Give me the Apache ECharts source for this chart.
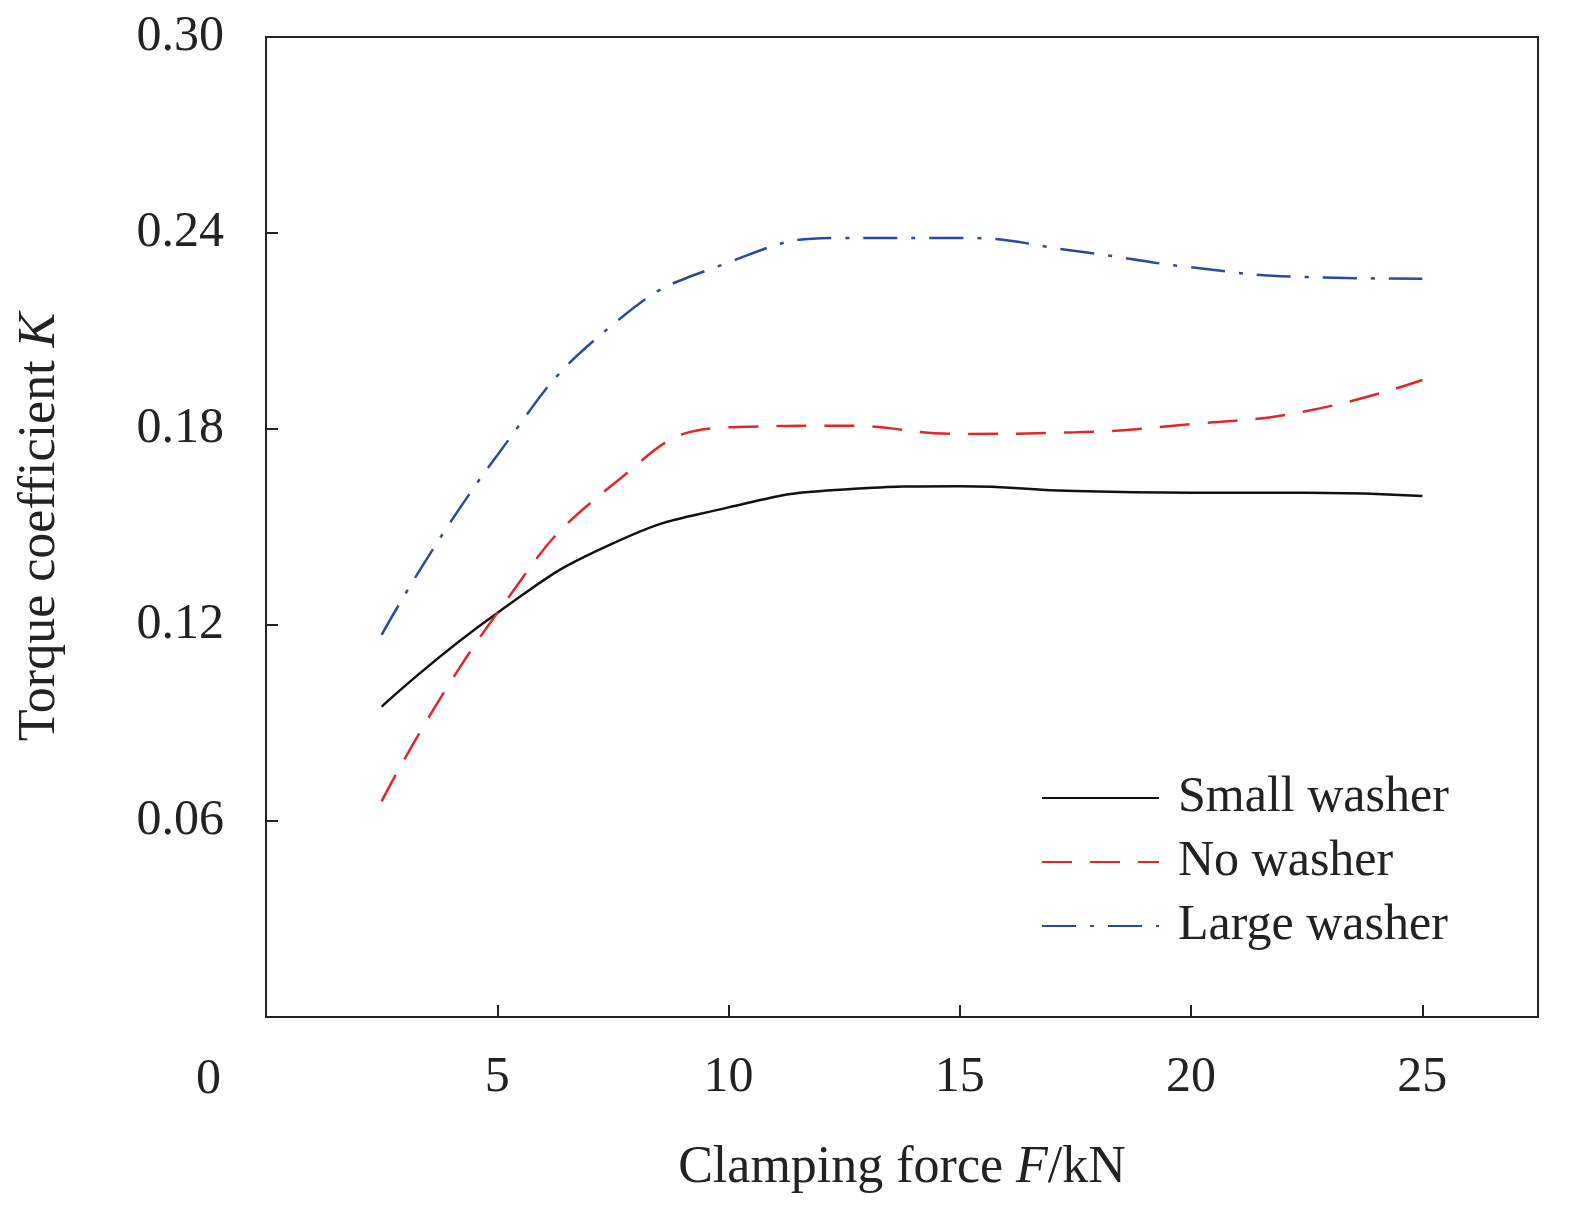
<!DOCTYPE html>
<html><head><meta charset="utf-8">
<script src="https://cdn.jsdelivr.net/npm/echarts@6/dist/echarts.min.js"></script>
<style>html,body{margin:0;background:#fff}#c{width:1575px;height:1205px}</style>
</head><body><div id="c"></div>
<script>
const xs = [2.5, 5, 7.5, 10, 12.5, 15, 17.5, 20, 22.5, 25];
const smallWasher = [0.095, 0.1237, 0.145, 0.156, 0.1615, 0.1625, 0.161, 0.1605, 0.1605, 0.1595];
const noWasher = [0.066, 0.1237, 0.163, 0.1805, 0.181, 0.1785, 0.179, 0.1815, 0.1855, 0.195];
const largeWasher = [0.117, 0.172, 0.212, 0.231, 0.2385, 0.2385, 0.2345, 0.2295, 0.2265, 0.226];
const yTicks = ['0.06','0.12','0.18','0.24','0.30'];
const xTicks = [5,10,15,20,25];
const font = 'Liberation Serif';
const chart = echarts.init(document.getElementById('c'));
const pair = a => xs.map((x,i)=>[x,a[i]]);
chart.setOption({
  animation:false,
  textStyle:{fontFamily:font},
  grid:{left:266,top:37,right:37,bottom:188,outerBoundsMode:'none',show:true,borderColor:'#222',borderWidth:2},
  graphic:[{type:'text',left:196,top:1055,style:{text:'0',font:'50px '+font,fill:'#222'}}],
  legend:{orient:'vertical',left:1036,top:768,itemWidth:117,itemHeight:20,itemGap:14,
    itemStyle:{opacity:0},
    textStyle:{fontSize:50,color:'#222',fontFamily:font,padding:[0,0,0,14]},
    data:['Small washer','No washer','Large washer']},
  xAxis:{type:'value',min:0,max:27.5,interval:5,
    axisLine:{lineStyle:{color:'#222',width:2}},
    axisTick:{inside:true,length:12,lineStyle:{color:'#222',width:2}},
    splitLine:{show:false},
    axisLabel:{fontSize:50,color:'#222',margin:36,fontFamily:font,showMaxLabel:false,
      formatter:v=>(xTicks.includes(v)?String(v):'')},
    name:'{n|Clamping force }{i|F}{n|/kN}',nameLocation:'middle',nameGap:125,
    nameTextStyle:{rich:{n:{fontSize:52,fontFamily:font,color:'#222'},i:{fontSize:52,fontFamily:font,fontStyle:'italic',color:'#222'}}}},
  yAxis:{type:'value',min:0,max:0.30,interval:0.06,
    axisLine:{lineStyle:{color:'#222',width:2}},
    axisTick:{inside:true,length:12,lineStyle:{color:'#222',width:2}},
    splitLine:{show:false},
    axisLabel:{fontSize:50,color:'#222',margin:42,fontFamily:font,
      formatter:v=>{const s=v.toFixed(2);return yTicks.includes(s)?s:'';}},
    name:'{n|Torque coefficient }{i|K}',nameLocation:'middle',nameGap:200,
    nameTextStyle:{rich:{n:{fontSize:52,fontFamily:font,color:'#222'},i:{fontSize:52,fontFamily:font,fontStyle:'italic',color:'#222'}}}},
  series:[
    {name:'Small washer',type:'line',smooth:true,symbol:'none',data:pair(smallWasher),
      lineStyle:{color:'#111',width:2.5},itemStyle:{color:'#111'}},
    {name:'No washer',type:'line',smooth:true,symbol:'none',data:pair(noWasher),
      lineStyle:{color:'#e0262b',width:2.5,type:[30,18]},itemStyle:{color:'#e0262b'}},
    {name:'Large washer',type:'line',smooth:true,symbol:'none',data:pair(largeWasher),
      lineStyle:{color:'#2b4a9b',width:2.5,type:[34,14,4,14]},itemStyle:{color:'#2b4a9b'}}
  ]
});
</script></body></html>
